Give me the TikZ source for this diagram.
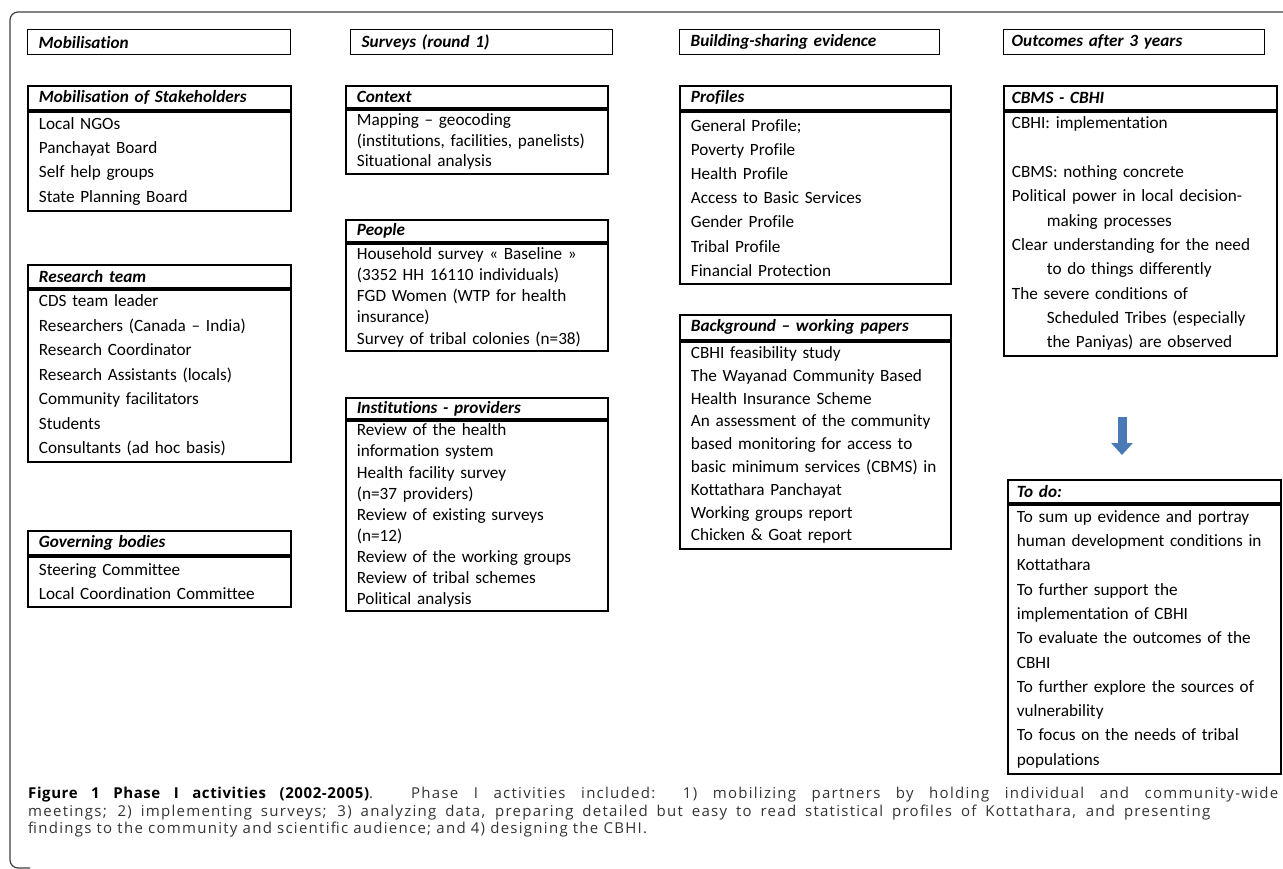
\documentclass[tikz,border=0pt]{standalone}
\usepackage{fontspec}
\setmainfont{Carlito}[Ligatures={TeX,NoCommon}]
\newfontfamily\capfont{Open Sans}[LetterSpace=8.5, BoldFeatures={LetterSpace=4}]
\usepackage{xcolor}
\usepackage{tikz}
\usetikzlibrary{positioning}
\usetikzlibrary{arrows.meta}
\definecolor{arrowblue}{HTML}{4A7AB5}
\definecolor{capgray}{HTML}{333333}

\begin{document}
\begin{tikzpicture}[x=1pt,y=-1pt,
    hdr/.style={draw, line width=1.4pt, anchor=north west, minimum height=25pt, inner xsep=11pt, inner ysep=0pt, align=left, font=\fontsize{17.2}{20}\selectfont\bfseries\itshape},
    ttl/.style={draw, line width=1.8pt, anchor=north west, inner xsep=11pt, inner ysep=0pt, align=left, font=\fontsize{17.2}{20}\selectfont\bfseries\itshape},
    bdy/.style={draw, line width=1.8pt, inner xsep=11pt, inner ysep=0pt, align=left, font=\fontsize{17.2}{#1}\selectfont}]
    \useasboundingbox (0,0) rectangle (1283,868);
    \draw[line width=1.2pt, black!75, rounded corners=8pt] (1283,12) -| (10,868) -- (30,868);

    % column headers
    \node[hdr, text width=241pt] (hmob) at (27,29) {Mobilisation};
    \node[hdr, text width=240pt] (hsurv) at (350,29) {Surveys (round 1)};
    \node[hdr, text width=238pt] (hbuild) at (679,29) {Building-sharing evidence};
    \node[hdr, text width=245pt, inner xsep=8pt] (hout) at (1003,29) {Outcomes after 3 years};

    % mobilisation
    \node[ttl, text width=241pt, minimum height=24pt] (staket) at (27,85) {Mobilisation of Stakeholders};
    \node[bdy=24.4, text width=241pt, minimum height=99pt, below=0pt of staket] (stake) {Local NGOs\\Panchayat Board\\Self help groups\\State Planning Board};
    \node[ttl, text width=241pt, minimum height=23pt] (teamt) at (27,264) {Research team};
    \node[bdy=24.5, text width=241pt, minimum height=172pt, below=0pt of teamt] (team) {CDS team leader\\Researchers (Canada -- India)\\Research Coordinator\\Research Assistants (locals)\\Community facilitators\\Students\\Consultants (ad hoc basis)};
    \node[ttl, text width=241pt, minimum height=24pt] (govt) at (27,530) {Governing bodies};
    \node[bdy=24.4, text width=241pt, minimum height=50pt, below=0pt of govt] (gov) {Steering Committee\\Local Coordination Committee};

    % surveys
    \node[ttl, text width=240pt, minimum height=22pt] (contt) at (345,85) {Context};
    \node[bdy=20.7, text width=240pt, minimum height=64pt, below=0pt of contt] (cont) {Mapping -- geocoding\\(institutions, facilities, panelists)\\Situational analysis};
    \node[ttl, text width=240pt, minimum height=22pt] (peopt) at (345,219) {People};
    \node[bdy=21.2, text width=240pt, minimum height=107pt, below=0pt of peopt] (peop) {Household survey « Baseline »\\(3352 HH 16110 individuals)\\FGD Women (WTP for health\\insurance)\\Survey of tribal colonies (n=38)};
    \node[ttl, text width=240pt, minimum height=21pt] (instt) at (345,397) {Institutions - providers};
    \node[bdy=21.1, text width=240pt, minimum height=190pt, below=0pt of instt] (inst) {Review of the health\\information system\\Health facility survey\\(n=37 providers)\\Review of existing surveys\\(n=12)\\Review of the working groups\\Review of tribal schemes\\Political analysis};

    % evidence
    \node[ttl, text width=249pt, minimum height=24pt] (proft) at (679,85) {Profiles};
    \node[bdy=24.2, text width=249pt, minimum height=172pt, below=0pt of proft] (prof) {General Profile;\\Poverty Profile\\Health Profile\\Access to Basic Services\\Gender Profile\\Tribal Profile\\Financial Protection};
    \node[ttl, text width=249pt, minimum height=25pt] (backt) at (679,314) {Background -- working papers};
    \node[bdy=22.8, text width=249pt, minimum height=207pt, below=0pt of backt] (back) {CBHI feasibility study\\The Wayanad Community Based\\Health Insurance Scheme\\An assessment of the community\\based monitoring for access to\\basic minimum services (CBMS) in\\Kottathara Panchayat\\Working groups report\\Chicken \& Goat report};

    % outcomes
    \node[ttl, text width=257pt, inner xsep=8pt, minimum height=24pt] (cbmst) at (1003,85) {CBMS - CBHI};
    \node[bdy=24.3, text width=257pt, inner xsep=8pt, minimum height=244pt, below=0pt of cbmst] (cbms) {CBHI: implementation\\[24.3pt]CBMS: nothing concrete\\Political power in local decision-\\\hspace*{35pt}making processes\\Clear understanding for the need\\\hspace*{35pt}to do things differently\\The severe conditions of\\\hspace*{35pt}Scheduled Tribes (especially\\\hspace*{35pt}the Paniyas) are observed};
    \coordinate (atop) at (1122,417);
    \coordinate (atip) at (1122,455);
    \draw[line width=9pt, arrowblue, -{Triangle[length=12pt,width=21pt]}] (atop) -- (atip);
    \node[ttl, text width=255pt, inner xsep=9pt, minimum height=23pt] (todot) at (1007,479) {To do:};
    \node[bdy=24.3, text width=255pt, inner xsep=9pt, minimum height=269pt, below=0pt of todot] (todo) {To sum up evidence and portray\\human development conditions in\\Kottathara\\To further support the\\implementation of CBHI\\To evaluate the outcomes of the\\CBHI\\To further explore the sources of\\vulnerability\\To focus on the needs of tribal\\populations};

    % caption
    \node[anchor=north west, inner sep=0pt, align=left, text=capgray, font=\capfont\fontsize{15}{17.4}\selectfont] (cap) at (28,787) {\makebox[1250pt][s]{\textcolor{black}{\bfseries Figure 1 Phase I activities (2002-2005)}. Phase I activities included: 1) mobilizing partners by holding individual and community-wide}\\\makebox[1182pt][s]{meetings; 2) implementing surveys; 3) analyzing data, preparing detailed but easy to read statistical profiles of Kottathara, and presenting}\\findings to the community and scientific audience; and 4) designing the CBHI.};
\end{tikzpicture}
\end{document}
